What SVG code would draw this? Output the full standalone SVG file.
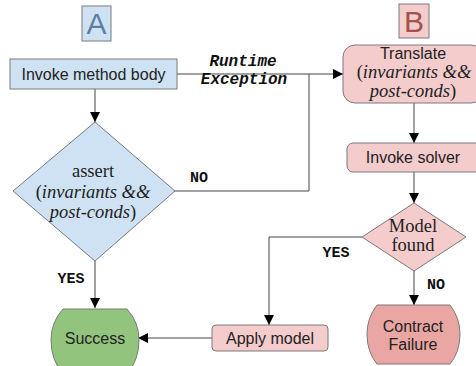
<svg xmlns="http://www.w3.org/2000/svg" width="476" height="366" viewBox="0 0 476 366">
<defs>
<marker id="ah" viewBox="0 0 10 10" refX="10" refY="5" markerWidth="10" markerHeight="10" markerUnits="userSpaceOnUse" orient="auto">
<path d="M0,0 L10,5 L0,10 z" fill="#000"/>
</marker>
<style>
.blue{fill:#cfe2f3;stroke:#7a7a7a;stroke-width:1}
.pink{fill:#f4cccc;stroke:#7a7a7a;stroke-width:1}
.green{fill:#93c47d;stroke:#7a7a7a;stroke-width:1}
.red{fill:#e9a6a3;stroke:#7a7a7a;stroke-width:1}
.sans{font-family:'Liberation Sans',Arial,sans-serif;font-size:16px;fill:#222;text-anchor:middle}
.serif{font-family:'Liberation Serif','DejaVu Serif',serif;font-size:18.5px;fill:#222;text-anchor:middle}
.mono{font-family:'Liberation Mono','Courier New',monospace;font-weight:bold;fill:#111;text-anchor:middle}
.ln{fill:none;stroke:#444;stroke-width:1}
</style>
</defs>
<rect width="476" height="366" fill="#fff"/>

<g id="labelA">
<rect x="82" y="6" width="29" height="35" class="blue"/>
<text x="96.5" y="34" font-family="'Liberation Sans',Arial,sans-serif" font-size="30" fill="#5d7fa3" text-anchor="middle">A</text>
</g>
<g id="labelB">
<rect x="399" y="4" width="30" height="34" class="pink"/>
<text x="414" y="32" font-family="'Liberation Sans',Arial,sans-serif" font-size="30" fill="#a0524d" text-anchor="middle">B</text>
</g>

<g id="connectors">
<path class="ln" d="M95,89 V122" marker-end="url(#ah)"/>
<path class="ln" d="M177,74 H343" marker-end="url(#ah)"/>
<path class="ln" d="M175,191 H309 V74"/>
<path class="ln" d="M95,261 V308" marker-end="url(#ah)"/>
<path class="ln" d="M414,103 V143" marker-end="url(#ah)"/>
<path class="ln" d="M414,172 V203" marker-end="url(#ah)"/>
<path class="ln" d="M362,237 H269 V325" marker-end="url(#ah)"/>
<path class="ln" d="M414,271 V305" marker-end="url(#ah)"/>
<path class="ln" d="M212,338 H138" marker-end="url(#ah)"/>
<text class="mono" font-size="16" font-style="italic" x="243" y="66">Runtime</text>
<text class="mono" font-size="16" font-style="italic" x="244" y="84">Exception</text>
<text class="mono" font-size="15" x="199" y="182">NO</text>
<text class="mono" font-size="15" x="71" y="283">YES</text>
<text class="mono" font-size="15" x="336" y="257">YES</text>
<text class="mono" font-size="15" x="436" y="289">NO</text>
</g>

<g id="invoke">
<rect x="10" y="59" width="167" height="30" class="blue"/>
<text class="sans" x="93.5" y="80">Invoke method body</text>
</g>

<g id="assert">
<path d="M95,122 L175,191 L95,261 L13,191 z" class="blue"/>
<text class="serif" x="93" y="177" font-size="20">assert</text>
<text class="serif" x="93" y="198">(<tspan font-style="italic">invariants &amp;&amp;</tspan></text>
<text class="serif" x="93" y="218"><tspan font-style="italic">post-conds</tspan>)</text>
</g>

<g id="translate">
<rect x="343" y="45" width="140" height="58" rx="12" class="pink"/>
<text class="sans" x="413" y="59">Translate</text>
<text class="serif" x="414" y="78" font-size="16.5">(<tspan font-style="italic">invariants &amp;&amp;</tspan></text>
<text class="serif" x="413" y="97" font-size="16.5"><tspan font-style="italic">post-conds</tspan>)</text>
</g>

<g id="solver">
<rect x="347" y="143" width="136" height="29" rx="6" class="pink"/>
<text class="sans" x="413" y="163">Invoke solver</text>
</g>

<g id="model">
<path d="M414,203 L466,237 L414,271 L362,237 z" class="pink"/>
<text class="serif" x="413" y="232" font-size="17.5">Model</text>
<text class="serif" x="413" y="251" font-size="17.5">found</text>
</g>

<g id="apply">
<rect x="212" y="325" width="116" height="26" rx="4" class="pink"/>
<text class="sans" x="270" y="344">Apply model</text>
</g>

<g id="success">
<path d="M63,309 H127 Q139,322 139,340 Q139,360 127,374 H63 Q51,360 51,340 Q51,322 63,309 z" class="green"/>
<text class="sans" x="95" y="344" font-size="17">Success</text>
</g>

<g id="failure">
<path d="M377,305 H450 Q460,318 460,334 Q460,352 450,364 H377 Q367,352 367,334 Q367,318 377,305 z" class="red"/>
<text class="sans" x="413" y="332" font-size="17">Contract</text>
<text class="sans" x="413" y="350" font-size="17">Failure</text>
</g>
</svg>
